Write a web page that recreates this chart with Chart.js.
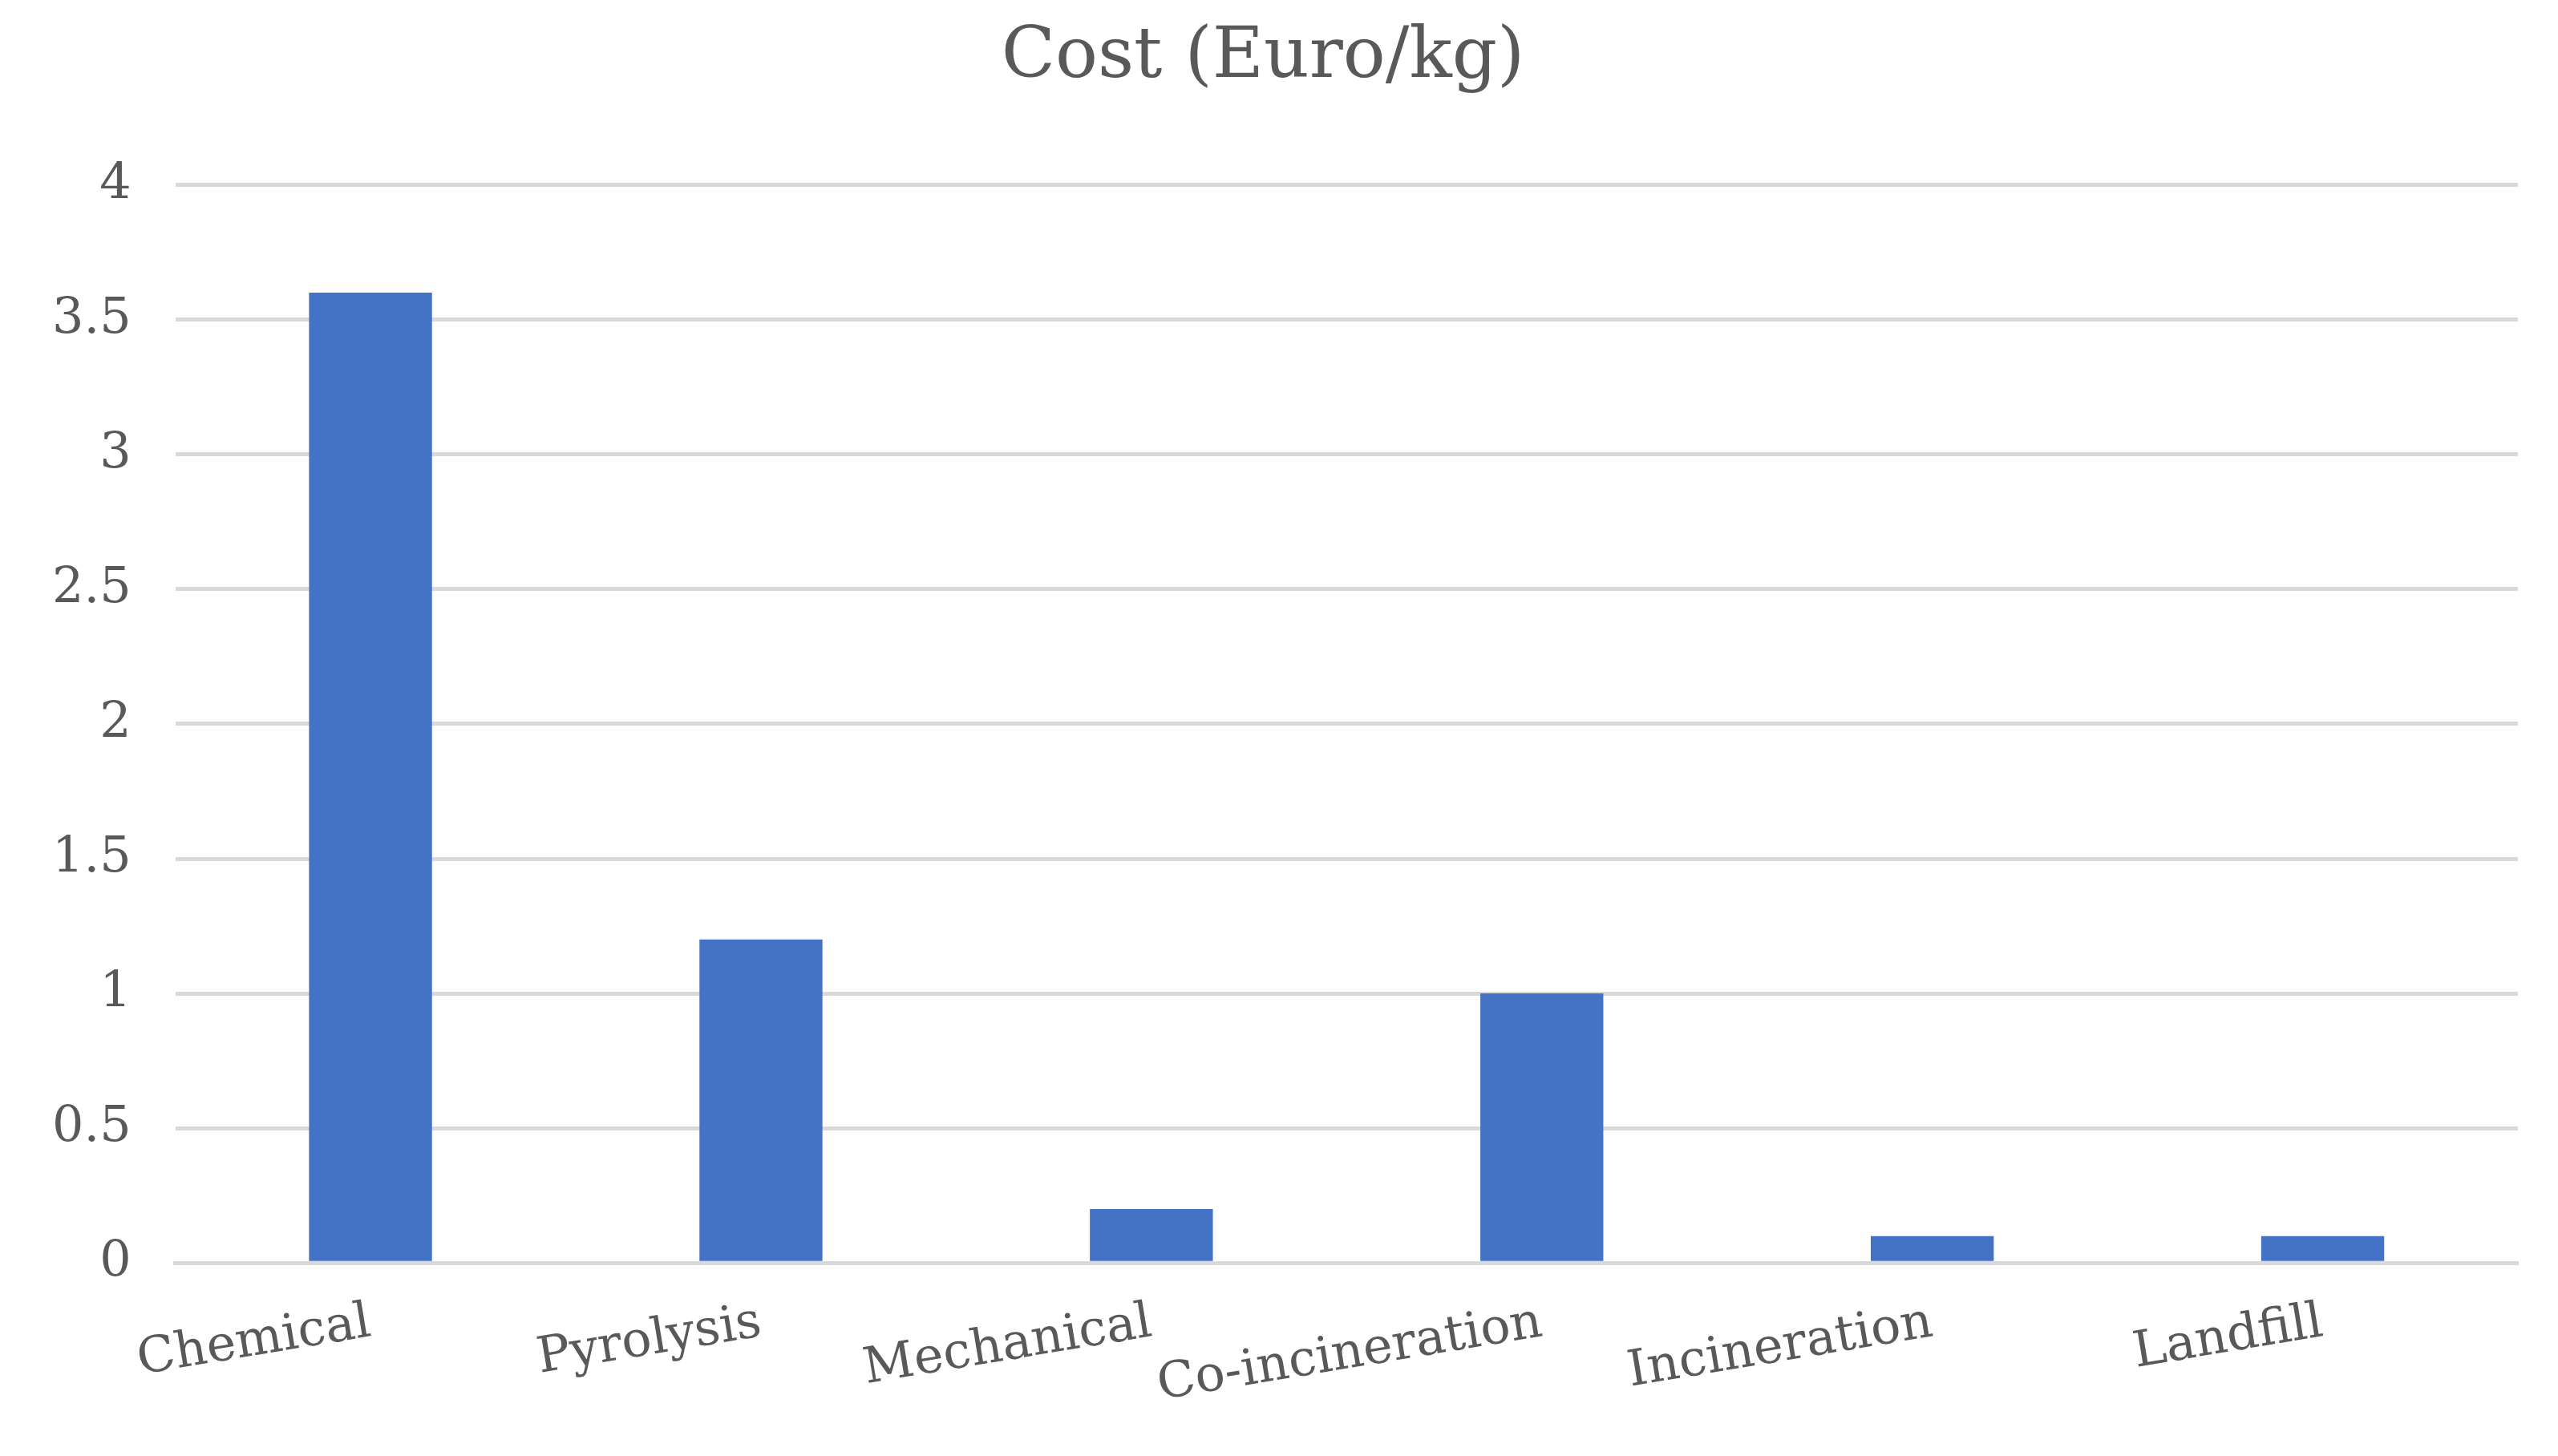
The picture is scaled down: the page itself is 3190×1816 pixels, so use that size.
<!DOCTYPE html>
<html>
<head>
<meta charset="utf-8">
<script src="https://cdn.jsdelivr.net/npm/chart.js@4/dist/chart.umd.min.js"></script>
<style>
  html, body { margin: 0; padding: 0; background: #fff; }
  #wrap { width: 3190px; height: 1816px; }
</style>
</head>
<body>
<div id="wrap"><canvas id="chart"></canvas></div>
<script>
const categories = ['Chemical', 'Pyrolysis', 'Mechanical', 'Co-incineration', 'Incineration', 'Landfill'];
const costValues = [3.6, 1.2, 0.2, 1.0, 0.1, 0.1];
const yTicks = [0, 0.5, 1, 1.5, 2, 2.5, 3, 3.5, 4];

const font = '"DejaVu Serif", "Liberation Serif", serif';

new Chart(document.getElementById('chart'), {
  type: 'bar',
  data: {
    labels: categories,
    datasets: [{
      label: 'Cost (Euro/kg)',
      data: costValues,
      backgroundColor: '#4472c4',
      barPercentage: 0.315,
      categoryPercentage: 1
    }]
  },
  options: {
    responsive: true,
    maintainAspectRatio: false,
    animation: false,
    layout: { padding: { left: 10, right: 50, top: 10, bottom: 20 } },
    plugins: {
      legend: { display: false },
      tooltip: { enabled: false },
      title: {
        display: true,
        text: 'Cost (Euro/kg)',
        color: '#595959',
        font: { family: font, size: 88, weight: 'normal' },
        padding: { top: 10, bottom: 105 }
      }
    },
    scales: {
      x: {
        grid: { display: false },
        border: { color: '#d9d9d9', width: 5 },
        ticks: { color: '#595959', font: { family: font, size: 62 }, padding: 30 }
      },
      y: {
        min: 0,
        max: 4,
        afterBuildTicks: axis => { axis.ticks = yTicks.map(v => ({ value: v })); },
        grid: { color: '#d9d9d9', lineWidth: 5, drawTicks: false },
        border: { display: false },
        ticks: {
          color: '#595959',
          font: { family: font, size: 62 },
          padding: 55,
          callback: v => String(v)
        }
      }
    }
  }
});
</script>
</body>
</html>
